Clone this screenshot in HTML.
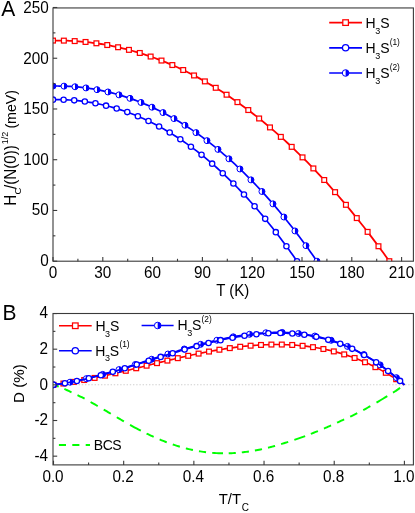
<!DOCTYPE html>
<html><head><meta charset="utf-8"><title>Hc and deviation function</title>
<style>
html,body{margin:0;padding:0;background:#fff;}
svg{display:block;will-change:transform;}
text{font-family:"Liberation Sans",sans-serif;fill:#000;}
</style></head><body>
<svg width="415" height="513" viewBox="0 0 415 513">
<rect width="415" height="513" fill="#fff"/>
<defs><clipPath id="ca"><rect x="53" y="7.95" width="360.4" height="253.25"/></clipPath>
<clipPath id="cb"><rect x="53" y="313.5" width="360.4" height="151.4"/></clipPath></defs>
<g clip-path="url(#ca)">
<path d="M53 40.58 L55.83 40.55 L58.65 40.55 L61.48 40.58 L64.3 40.64 L67.13 40.72 L69.96 40.83 L72.78 40.97 L75.61 41.14 L78.44 41.34 L81.26 41.57 L84.09 41.83 L86.91 42.11 L89.74 42.43 L92.57 42.77 L95.39 43.15 L98.22 43.55 L101.05 43.99 L103.87 44.45 L106.7 44.94 L109.52 45.47 L112.35 46.02 L115.18 46.61 L118 47.22 L120.83 47.86 L123.65 48.54 L126.48 49.24 L129.31 49.98 L132.13 50.75 L134.96 51.55 L137.79 52.38 L140.61 53.24 L143.44 54.13 L146.26 55.05 L149.09 56 L151.92 56.99 L154.74 58.01 L157.57 59.05 L160.4 60.13 L163.22 61.25 L166.05 62.39 L168.87 63.57 L171.7 64.77 L174.53 66.02 L177.35 67.29 L180.18 68.59 L183 69.93 L185.83 71.3 L188.66 72.7 L191.48 74.14 L194.31 75.61 L197.14 77.11 L199.96 78.64 L202.79 80.21 L205.61 81.81 L208.44 83.44 L211.27 85.11 L214.09 86.81 L216.92 88.54 L219.74 90.31 L222.57 92.11 L225.4 93.94 L228.22 95.81 L231.05 97.72 L233.88 99.65 L236.7 101.62 L239.53 103.63 L242.35 105.67 L245.18 107.74 L248.01 109.85 L250.83 111.99 L253.66 114.17 L256.49 116.38 L259.31 118.63 L262.14 120.91 L264.96 123.22 L267.79 125.58 L270.62 127.96 L273.44 130.39 L276.27 132.84 L279.09 135.34 L281.92 137.86 L284.75 140.43 L287.57 143.03 L290.4 145.66 L293.23 148.33 L296.05 151.04 L298.88 153.78 L301.7 156.56 L304.53 159.38 L307.36 162.23 L310.18 165.12 L313.01 168.05 L315.84 171.01 L318.66 174.01 L321.49 177.04 L324.31 180.11 L327.14 183.22 L329.97 186.37 L332.79 189.55 L335.62 192.77 L338.44 196.03 L341.27 199.33 L344.1 202.66 L346.92 206.03 L349.75 209.44 L352.58 212.89 L355.4 216.38 L358.23 219.9 L361.05 223.46 L363.88 227.06 L366.71 230.7 L369.53 234.37 L372.36 238.09 L375.19 241.84 L378.01 245.64 L380.84 249.47 L383.66 253.34 L386.49 257.25 L389.32 261.2" fill="none" stroke="#ff0000" stroke-width="1.8" stroke-linejoin="round" />
<rect x="50.6" y="38.18" width="4.8" height="4.8" fill="#fff" stroke="#ff0000" stroke-width="1.25"/>
<rect x="61.45" y="38.23" width="4.8" height="4.8" fill="#fff" stroke="#ff0000" stroke-width="1.25"/>
<rect x="72.3" y="38.69" width="4.8" height="4.8" fill="#fff" stroke="#ff0000" stroke-width="1.25"/>
<rect x="83.15" y="39.57" width="4.8" height="4.8" fill="#fff" stroke="#ff0000" stroke-width="1.25"/>
<rect x="94" y="40.89" width="4.8" height="4.8" fill="#fff" stroke="#ff0000" stroke-width="1.25"/>
<rect x="104.84" y="42.64" width="4.8" height="4.8" fill="#fff" stroke="#ff0000" stroke-width="1.25"/>
<rect x="115.69" y="44.84" width="4.8" height="4.8" fill="#fff" stroke="#ff0000" stroke-width="1.25"/>
<rect x="126.54" y="47.48" width="4.8" height="4.8" fill="#fff" stroke="#ff0000" stroke-width="1.25"/>
<rect x="137.39" y="50.58" width="4.8" height="4.8" fill="#fff" stroke="#ff0000" stroke-width="1.25"/>
<rect x="148.24" y="54.14" width="4.8" height="4.8" fill="#fff" stroke="#ff0000" stroke-width="1.25"/>
<rect x="159.09" y="58.16" width="4.8" height="4.8" fill="#fff" stroke="#ff0000" stroke-width="1.25"/>
<rect x="169.94" y="62.65" width="4.8" height="4.8" fill="#fff" stroke="#ff0000" stroke-width="1.25"/>
<rect x="180.79" y="67.62" width="4.8" height="4.8" fill="#fff" stroke="#ff0000" stroke-width="1.25"/>
<rect x="191.64" y="73.06" width="4.8" height="4.8" fill="#fff" stroke="#ff0000" stroke-width="1.25"/>
<rect x="202.48" y="78.99" width="4.8" height="4.8" fill="#fff" stroke="#ff0000" stroke-width="1.25"/>
<rect x="213.33" y="85.41" width="4.8" height="4.8" fill="#fff" stroke="#ff0000" stroke-width="1.25"/>
<rect x="224.18" y="92.32" width="4.8" height="4.8" fill="#fff" stroke="#ff0000" stroke-width="1.25"/>
<rect x="235.03" y="99.74" width="4.8" height="4.8" fill="#fff" stroke="#ff0000" stroke-width="1.25"/>
<rect x="245.88" y="107.65" width="4.8" height="4.8" fill="#fff" stroke="#ff0000" stroke-width="1.25"/>
<rect x="256.73" y="116.08" width="4.8" height="4.8" fill="#fff" stroke="#ff0000" stroke-width="1.25"/>
<rect x="267.58" y="125.02" width="4.8" height="4.8" fill="#fff" stroke="#ff0000" stroke-width="1.25"/>
<rect x="278.43" y="134.48" width="4.8" height="4.8" fill="#fff" stroke="#ff0000" stroke-width="1.25"/>
<rect x="289.28" y="144.46" width="4.8" height="4.8" fill="#fff" stroke="#ff0000" stroke-width="1.25"/>
<rect x="300.12" y="154.98" width="4.8" height="4.8" fill="#fff" stroke="#ff0000" stroke-width="1.25"/>
<rect x="310.97" y="166.03" width="4.8" height="4.8" fill="#fff" stroke="#ff0000" stroke-width="1.25"/>
<rect x="321.82" y="177.61" width="4.8" height="4.8" fill="#fff" stroke="#ff0000" stroke-width="1.25"/>
<rect x="332.67" y="189.75" width="4.8" height="4.8" fill="#fff" stroke="#ff0000" stroke-width="1.25"/>
<rect x="343.52" y="202.43" width="4.8" height="4.8" fill="#fff" stroke="#ff0000" stroke-width="1.25"/>
<rect x="354.37" y="215.68" width="4.8" height="4.8" fill="#fff" stroke="#ff0000" stroke-width="1.25"/>
<rect x="365.22" y="229.48" width="4.8" height="4.8" fill="#fff" stroke="#ff0000" stroke-width="1.25"/>
<rect x="376.07" y="243.85" width="4.8" height="4.8" fill="#fff" stroke="#ff0000" stroke-width="1.25"/>
<rect x="386.92" y="258.8" width="4.8" height="4.8" fill="#fff" stroke="#ff0000" stroke-width="1.25"/>
<path d="M53 99.64 L55.05 99.62 L57.1 99.62 L59.15 99.63 L61.2 99.67 L63.25 99.73 L65.3 99.8 L67.35 99.9 L69.4 100.02 L71.46 100.15 L73.51 100.31 L75.56 100.49 L77.61 100.69 L79.66 100.91 L81.71 101.15 L83.76 101.41 L85.81 101.69 L87.86 102 L89.91 102.32 L91.96 102.67 L94.01 103.04 L96.06 103.43 L98.11 103.84 L100.16 104.27 L102.21 104.73 L104.26 105.2 L106.32 105.7 L108.37 106.22 L110.42 106.77 L112.47 107.33 L114.52 107.92 L116.57 108.53 L118.62 109.17 L120.67 109.82 L122.72 110.5 L124.77 111.2 L126.82 111.93 L128.87 112.68 L130.92 113.45 L132.97 114.24 L135.02 115.06 L137.07 115.9 L139.12 116.77 L141.18 117.66 L143.23 118.57 L145.28 119.51 L147.33 120.47 L149.38 121.45 L151.43 122.46 L153.48 123.49 L155.53 124.55 L157.58 125.63 L159.63 126.74 L161.68 127.87 L163.73 129.02 L165.78 130.2 L167.83 131.41 L169.88 132.64 L171.93 133.89 L173.98 135.17 L176.04 136.48 L178.09 137.81 L180.14 139.16 L182.19 140.54 L184.24 141.95 L186.29 143.38 L188.34 144.84 L190.39 146.32 L192.44 147.83 L194.49 149.37 L196.54 150.93 L198.59 152.51 L200.64 154.13 L202.69 155.77 L204.74 157.43 L206.79 159.13 L208.84 160.85 L210.9 162.59 L212.95 164.37 L215 166.17 L217.05 167.99 L219.1 169.85 L221.15 171.73 L223.2 173.63 L225.25 175.57 L227.3 177.53 L229.35 179.52 L231.4 181.54 L233.45 183.58 L235.5 185.66 L237.55 187.76 L239.6 189.88 L241.65 192.04 L243.7 194.23 L245.76 196.44 L247.81 198.68 L249.86 200.95 L251.91 203.25 L253.96 205.57 L256.01 207.93 L258.06 210.31 L260.11 212.72 L262.16 215.17 L264.21 217.64 L266.26 220.14 L268.31 222.67 L270.36 225.22 L272.41 227.81 L274.46 230.43 L276.51 233.08 L278.56 235.75 L280.62 238.46 L282.67 241.2 L284.72 243.96 L286.77 246.76 L288.82 249.59 L290.87 252.44 L292.92 255.33 L294.97 258.25 L297.02 261.2" fill="none" stroke="#0000ff" stroke-width="1.7" stroke-linejoin="round" />
<circle cx="53" cy="99.64" r="2.65" fill="#fff" stroke="#0000ff" stroke-width="1.3"/>
<circle cx="63.61" cy="99.74" r="2.65" fill="#fff" stroke="#0000ff" stroke-width="1.3"/>
<circle cx="74.22" cy="100.37" r="2.65" fill="#fff" stroke="#0000ff" stroke-width="1.3"/>
<circle cx="84.83" cy="101.56" r="2.65" fill="#fff" stroke="#0000ff" stroke-width="1.3"/>
<circle cx="95.44" cy="103.31" r="2.65" fill="#fff" stroke="#0000ff" stroke-width="1.3"/>
<circle cx="106.05" cy="105.64" r="2.65" fill="#fff" stroke="#0000ff" stroke-width="1.3"/>
<circle cx="116.66" cy="108.56" r="2.65" fill="#fff" stroke="#0000ff" stroke-width="1.3"/>
<circle cx="127.27" cy="112.09" r="2.65" fill="#fff" stroke="#0000ff" stroke-width="1.3"/>
<circle cx="137.88" cy="116.24" r="2.65" fill="#fff" stroke="#0000ff" stroke-width="1.3"/>
<circle cx="148.49" cy="121.02" r="2.65" fill="#fff" stroke="#0000ff" stroke-width="1.3"/>
<circle cx="159.1" cy="126.45" r="2.65" fill="#fff" stroke="#0000ff" stroke-width="1.3"/>
<circle cx="169.71" cy="132.53" r="2.65" fill="#fff" stroke="#0000ff" stroke-width="1.3"/>
<circle cx="180.31" cy="139.28" r="2.65" fill="#fff" stroke="#0000ff" stroke-width="1.3"/>
<circle cx="190.92" cy="146.71" r="2.65" fill="#fff" stroke="#0000ff" stroke-width="1.3"/>
<circle cx="201.53" cy="154.84" r="2.65" fill="#fff" stroke="#0000ff" stroke-width="1.3"/>
<circle cx="212.14" cy="163.67" r="2.65" fill="#fff" stroke="#0000ff" stroke-width="1.3"/>
<circle cx="222.75" cy="173.22" r="2.65" fill="#fff" stroke="#0000ff" stroke-width="1.3"/>
<circle cx="233.36" cy="183.49" r="2.65" fill="#fff" stroke="#0000ff" stroke-width="1.3"/>
<circle cx="243.97" cy="194.51" r="2.65" fill="#fff" stroke="#0000ff" stroke-width="1.3"/>
<circle cx="254.58" cy="206.29" r="2.65" fill="#fff" stroke="#0000ff" stroke-width="1.3"/>
<circle cx="265.19" cy="218.83" r="2.65" fill="#fff" stroke="#0000ff" stroke-width="1.3"/>
<circle cx="275.8" cy="232.15" r="2.65" fill="#fff" stroke="#0000ff" stroke-width="1.3"/>
<circle cx="286.41" cy="246.27" r="2.65" fill="#fff" stroke="#0000ff" stroke-width="1.3"/>
<circle cx="297.02" cy="261.2" r="2.65" fill="#fff" stroke="#0000ff" stroke-width="1.3"/>
<path d="M53 86.05 L55.22 86.02 L57.44 86.02 L59.65 86.04 L61.87 86.08 L64.09 86.14 L66.31 86.22 L68.53 86.32 L70.74 86.45 L72.96 86.6 L75.18 86.77 L77.4 86.96 L79.62 87.18 L81.83 87.42 L84.05 87.68 L86.27 87.96 L88.49 88.27 L90.71 88.6 L92.92 88.95 L95.14 89.33 L97.36 89.72 L99.58 90.15 L101.8 90.59 L104.01 91.06 L106.23 91.56 L108.45 92.07 L110.67 92.61 L112.89 93.18 L115.1 93.77 L117.32 94.38 L119.54 95.02 L121.76 95.68 L123.98 96.37 L126.19 97.08 L128.41 97.82 L130.63 98.58 L132.85 99.36 L135.07 100.17 L137.28 101.01 L139.5 101.87 L141.72 102.76 L143.94 103.67 L146.16 104.61 L148.37 105.57 L150.59 106.56 L152.81 107.58 L155.03 108.62 L157.25 109.69 L159.46 110.78 L161.68 111.9 L163.9 113.05 L166.12 114.22 L168.34 115.42 L170.55 116.64 L172.77 117.9 L174.99 119.18 L177.21 120.48 L179.43 121.82 L181.64 123.18 L183.86 124.56 L186.08 125.98 L188.3 127.42 L190.51 128.89 L192.73 130.39 L194.95 131.91 L197.17 133.46 L199.39 135.04 L201.6 136.65 L203.82 138.29 L206.04 139.95 L208.26 141.65 L210.48 143.37 L212.69 145.12 L214.91 146.89 L217.13 148.7 L219.35 150.54 L221.57 152.4 L223.78 154.29 L226 156.22 L228.22 158.17 L230.44 160.15 L232.66 162.16 L234.87 164.19 L237.09 166.26 L239.31 168.36 L241.53 170.49 L243.75 172.65 L245.96 174.83 L248.18 177.05 L250.4 179.3 L252.62 181.57 L254.84 183.88 L257.05 186.22 L259.27 188.59 L261.49 190.99 L263.71 193.42 L265.93 195.88 L268.14 198.37 L270.36 200.89 L272.58 203.44 L274.8 206.03 L277.02 208.64 L279.23 211.29 L281.45 213.97 L283.67 216.68 L285.89 219.42 L288.11 222.2 L290.32 225 L292.54 227.84 L294.76 230.71 L296.98 233.61 L299.2 236.55 L301.41 239.51 L303.63 242.51 L305.85 245.54 L308.07 248.61 L310.29 251.71 L312.5 254.84 L314.72 258 L316.94 261.2" fill="none" stroke="#0000ff" stroke-width="1.7" stroke-linejoin="round" />
<circle cx="53" cy="86.05" r="3" fill="#fff" stroke="#0000ff" stroke-width="1.0"/>
<path d="M53 83.05 A3 3 0 0 1 53 89.05 Z" fill="#0000ff"/>
<circle cx="64" cy="86.13" r="3" fill="#fff" stroke="#0000ff" stroke-width="1.0"/>
<path d="M64 83.13 A3 3 0 0 1 64 89.13 Z" fill="#0000ff"/>
<circle cx="75" cy="86.75" r="3" fill="#fff" stroke="#0000ff" stroke-width="1.0"/>
<path d="M75 83.75 A3 3 0 0 1 75 89.75 Z" fill="#0000ff"/>
<circle cx="85.99" cy="87.92" r="3" fill="#fff" stroke="#0000ff" stroke-width="1.0"/>
<path d="M85.99 84.92 A3 3 0 0 1 85.99 90.92 Z" fill="#0000ff"/>
<circle cx="96.99" cy="89.66" r="3" fill="#fff" stroke="#0000ff" stroke-width="1.0"/>
<path d="M96.99 86.66 A3 3 0 0 1 96.99 92.66 Z" fill="#0000ff"/>
<circle cx="107.99" cy="91.96" r="3" fill="#fff" stroke="#0000ff" stroke-width="1.0"/>
<path d="M107.99 88.96 A3 3 0 0 1 107.99 94.96 Z" fill="#0000ff"/>
<circle cx="118.98" cy="94.86" r="3" fill="#fff" stroke="#0000ff" stroke-width="1.0"/>
<path d="M118.98 91.86 A3 3 0 0 1 118.98 97.86 Z" fill="#0000ff"/>
<circle cx="129.98" cy="98.35" r="3" fill="#fff" stroke="#0000ff" stroke-width="1.0"/>
<path d="M129.98 95.35 A3 3 0 0 1 129.98 101.35 Z" fill="#0000ff"/>
<circle cx="140.98" cy="102.46" r="3" fill="#fff" stroke="#0000ff" stroke-width="1.0"/>
<path d="M140.98 99.46 A3 3 0 0 1 140.98 105.46 Z" fill="#0000ff"/>
<circle cx="151.98" cy="107.2" r="3" fill="#fff" stroke="#0000ff" stroke-width="1.0"/>
<path d="M151.98 104.2 A3 3 0 0 1 151.98 110.2 Z" fill="#0000ff"/>
<circle cx="162.97" cy="112.57" r="3" fill="#fff" stroke="#0000ff" stroke-width="1.0"/>
<path d="M162.97 109.57 A3 3 0 0 1 162.97 115.57 Z" fill="#0000ff"/>
<circle cx="173.97" cy="118.59" r="3" fill="#fff" stroke="#0000ff" stroke-width="1.0"/>
<path d="M173.97 115.59 A3 3 0 0 1 173.97 121.59 Z" fill="#0000ff"/>
<circle cx="184.97" cy="125.27" r="3" fill="#fff" stroke="#0000ff" stroke-width="1.0"/>
<path d="M184.97 122.27 A3 3 0 0 1 184.97 128.27 Z" fill="#0000ff"/>
<circle cx="195.97" cy="132.62" r="3" fill="#fff" stroke="#0000ff" stroke-width="1.0"/>
<path d="M195.97 129.62 A3 3 0 0 1 195.97 135.62 Z" fill="#0000ff"/>
<circle cx="206.97" cy="140.65" r="3" fill="#fff" stroke="#0000ff" stroke-width="1.0"/>
<path d="M206.97 137.65 A3 3 0 0 1 206.97 143.65 Z" fill="#0000ff"/>
<circle cx="217.96" cy="149.39" r="3" fill="#fff" stroke="#0000ff" stroke-width="1.0"/>
<path d="M217.96 146.39 A3 3 0 0 1 217.96 152.39 Z" fill="#0000ff"/>
<circle cx="228.96" cy="158.82" r="3" fill="#fff" stroke="#0000ff" stroke-width="1.0"/>
<path d="M228.96 155.82 A3 3 0 0 1 228.96 161.82 Z" fill="#0000ff"/>
<circle cx="239.96" cy="168.98" r="3" fill="#fff" stroke="#0000ff" stroke-width="1.0"/>
<path d="M239.96 165.98 A3 3 0 0 1 239.96 171.98 Z" fill="#0000ff"/>
<circle cx="250.95" cy="179.86" r="3" fill="#fff" stroke="#0000ff" stroke-width="1.0"/>
<path d="M250.95 176.86 A3 3 0 0 1 250.95 182.86 Z" fill="#0000ff"/>
<circle cx="261.95" cy="191.49" r="3" fill="#fff" stroke="#0000ff" stroke-width="1.0"/>
<path d="M261.95 188.49 A3 3 0 0 1 261.95 194.49 Z" fill="#0000ff"/>
<circle cx="272.95" cy="203.87" r="3" fill="#fff" stroke="#0000ff" stroke-width="1.0"/>
<path d="M272.95 200.87 A3 3 0 0 1 272.95 206.87 Z" fill="#0000ff"/>
<circle cx="283.95" cy="217.02" r="3" fill="#fff" stroke="#0000ff" stroke-width="1.0"/>
<path d="M283.95 214.02 A3 3 0 0 1 283.95 220.02 Z" fill="#0000ff"/>
<circle cx="294.94" cy="230.95" r="3" fill="#fff" stroke="#0000ff" stroke-width="1.0"/>
<path d="M294.94 227.95 A3 3 0 0 1 294.94 233.95 Z" fill="#0000ff"/>
<circle cx="305.94" cy="245.67" r="3" fill="#fff" stroke="#0000ff" stroke-width="1.0"/>
<path d="M305.94 242.67 A3 3 0 0 1 305.94 248.67 Z" fill="#0000ff"/>
<circle cx="316.94" cy="261.2" r="3" fill="#fff" stroke="#0000ff" stroke-width="1.0"/>
<path d="M316.94 258.2 A3 3 0 0 1 316.94 264.2 Z" fill="#0000ff"/>
</g>
<rect x="53" y="7.95" width="360.4" height="253.25" fill="none" stroke="#3a3a3a" stroke-width="1.1"/>
<line x1="53" y1="261.2" x2="53" y2="257" stroke="#3a3a3a" stroke-width="1.1" />
<text transform="translate(53 277.6) scale(1 1.04)" font-size="15.3" text-anchor="middle">0</text>
<line x1="77.9" y1="261.2" x2="77.9" y2="258.8" stroke="#3a3a3a" stroke-width="1.1" />
<line x1="102.8" y1="261.2" x2="102.8" y2="257" stroke="#3a3a3a" stroke-width="1.1" />
<text transform="translate(102.8 277.6) scale(1 1.04)" font-size="15.3" text-anchor="middle">30</text>
<line x1="127.7" y1="261.2" x2="127.7" y2="258.8" stroke="#3a3a3a" stroke-width="1.1" />
<line x1="152.6" y1="261.2" x2="152.6" y2="257" stroke="#3a3a3a" stroke-width="1.1" />
<text transform="translate(152.6 277.6) scale(1 1.04)" font-size="15.3" text-anchor="middle">60</text>
<line x1="177.5" y1="261.2" x2="177.5" y2="258.8" stroke="#3a3a3a" stroke-width="1.1" />
<line x1="202.4" y1="261.2" x2="202.4" y2="257" stroke="#3a3a3a" stroke-width="1.1" />
<text transform="translate(202.4 277.6) scale(1 1.04)" font-size="15.3" text-anchor="middle">90</text>
<line x1="227.3" y1="261.2" x2="227.3" y2="258.8" stroke="#3a3a3a" stroke-width="1.1" />
<line x1="252.2" y1="261.2" x2="252.2" y2="257" stroke="#3a3a3a" stroke-width="1.1" />
<text transform="translate(252.2 277.6) scale(1 1.04)" font-size="15.3" text-anchor="middle">120</text>
<line x1="277.1" y1="261.2" x2="277.1" y2="258.8" stroke="#3a3a3a" stroke-width="1.1" />
<line x1="302" y1="261.2" x2="302" y2="257" stroke="#3a3a3a" stroke-width="1.1" />
<text transform="translate(302 277.6) scale(1 1.04)" font-size="15.3" text-anchor="middle">150</text>
<line x1="326.9" y1="261.2" x2="326.9" y2="258.8" stroke="#3a3a3a" stroke-width="1.1" />
<line x1="351.8" y1="261.2" x2="351.8" y2="257" stroke="#3a3a3a" stroke-width="1.1" />
<text transform="translate(351.8 277.6) scale(1 1.04)" font-size="15.3" text-anchor="middle">180</text>
<line x1="376.7" y1="261.2" x2="376.7" y2="258.8" stroke="#3a3a3a" stroke-width="1.1" />
<line x1="401.6" y1="261.2" x2="401.6" y2="257" stroke="#3a3a3a" stroke-width="1.1" />
<text transform="translate(401.6 277.6) scale(1 1.04)" font-size="15.3" text-anchor="middle">210</text>
<line x1="53" y1="261.2" x2="57.2" y2="261.2" stroke="#3a3a3a" stroke-width="1.1" />
<text transform="translate(48.7 265.9) scale(1 1.04)" font-size="15.3" text-anchor="end">0</text>
<line x1="53" y1="235.83" x2="55.4" y2="235.83" stroke="#3a3a3a" stroke-width="1.1" />
<line x1="53" y1="210.46" x2="57.2" y2="210.46" stroke="#3a3a3a" stroke-width="1.1" />
<text transform="translate(48.7 215.34) scale(1 1.04)" font-size="15.3" text-anchor="end">50</text>
<line x1="53" y1="185.09" x2="55.4" y2="185.09" stroke="#3a3a3a" stroke-width="1.1" />
<line x1="53" y1="159.72" x2="57.2" y2="159.72" stroke="#3a3a3a" stroke-width="1.1" />
<text transform="translate(48.7 164.78) scale(1 1.04)" font-size="15.3" text-anchor="end">100</text>
<line x1="53" y1="134.35" x2="55.4" y2="134.35" stroke="#3a3a3a" stroke-width="1.1" />
<line x1="53" y1="108.98" x2="57.2" y2="108.98" stroke="#3a3a3a" stroke-width="1.1" />
<text transform="translate(48.7 114.22) scale(1 1.04)" font-size="15.3" text-anchor="end">150</text>
<line x1="53" y1="83.61" x2="55.4" y2="83.61" stroke="#3a3a3a" stroke-width="1.1" />
<line x1="53" y1="58.24" x2="57.2" y2="58.24" stroke="#3a3a3a" stroke-width="1.1" />
<text transform="translate(48.7 63.66) scale(1 1.04)" font-size="15.3" text-anchor="end">200</text>
<line x1="53" y1="32.87" x2="55.4" y2="32.87" stroke="#3a3a3a" stroke-width="1.1" />
<line x1="53" y1="7.5" x2="57.2" y2="7.5" stroke="#3a3a3a" stroke-width="1.1" />
<text transform="translate(48.7 13.1) scale(1 1.04)" font-size="15.3" text-anchor="end">250</text>
<text transform="translate(216.3 295.8) scale(1 1.05)" font-size="15">T (K)</text>
<text transform="translate(1.2 15.5) scale(1 1.08)" font-size="21">A</text>
<g transform="translate(15.8 205.7) rotate(-90) scale(1 1.05)"><text x="0" y="0" font-size="15.2">H<tspan font-size="9.5" dy="5.3" dx="0.2">C</tspan><tspan dy="-5.3" dx="-1.4">/(N(0))</tspan><tspan font-size="9" dy="-7.6" dx="0.9">1/2</tspan><tspan x="77.1" dy="7.6" font-size="14.2">(meV)</tspan></text></g>
<line x1="329.2" y1="22.6" x2="362" y2="22.6" stroke="#ff0000" stroke-width="1.7" />
<rect x="342.8" y="19.8" width="5.6" height="5.6" fill="#fff" stroke="#ff0000" stroke-width="1.25"/>
<text x="365.6" y="27.7" font-size="14" text-anchor="start" >H<tspan font-size="9" dy="5.8" dx="-0.5">3</tspan><tspan dy="-5.8" dx="-0.1">S</tspan></text>
<line x1="329.2" y1="47.8" x2="362" y2="47.8" stroke="#0000ff" stroke-width="1.7" />
<circle cx="345.6" cy="47.8" r="3.15" fill="#fff" stroke="#0000ff" stroke-width="1.3"/>
<text x="365.6" y="52.9" font-size="14" text-anchor="start" >H<tspan font-size="9" dy="5.8" dx="-0.5">3</tspan><tspan dy="-5.8" dx="-0.1">S</tspan><tspan font-size="8.4" dy="-7.9" dx="0.2">(1)</tspan></text>
<line x1="329.2" y1="73" x2="362" y2="73" stroke="#0000ff" stroke-width="1.7" />
<circle cx="345.6" cy="73" r="3.3" fill="#fff" stroke="#0000ff" stroke-width="1.0"/>
<path d="M345.6 69.7 A3.3 3.3 0 0 1 345.6 76.3 Z" fill="#0000ff"/>
<text x="365.6" y="78.1" font-size="14" text-anchor="start" >H<tspan font-size="9" dy="5.8" dx="-0.5">3</tspan><tspan dy="-5.8" dx="-0.1">S</tspan><tspan font-size="8.4" dy="-7.9" dx="0.2">(2)</tspan></text>
<line x1="53" y1="384.75" x2="413.4" y2="384.75" stroke="#cfcfcf" stroke-width="1" stroke-dasharray="1.4 1.8"/>
<g clip-path="url(#cb)">
<path d="M53.5 384.85 L54.54 385.18 L55.58 385.52 L56.62 385.88 L57.66 386.25 L58.7 386.63" fill="none" stroke="#00ff00" stroke-width="1.95" stroke-linejoin="round" />
<path d="M64.4 388.95 L65.82 389.59 L67.24 390.24 L68.66 390.91 L70.08 391.61 L71.5 392.29" fill="none" stroke="#00ff00" stroke-width="1.95" stroke-linejoin="round" />
<path d="M77.5 395.09 L78.92 395.8 L80.34 396.51 L81.76 397.24 L83.18 397.98 L84.6 398.73" fill="none" stroke="#00ff00" stroke-width="1.95" stroke-linejoin="round" />
<path d="M90.6 402 L92.02 402.79 L93.44 403.59 L94.86 404.4 L96.28 405.22 L97.7 406.03" fill="none" stroke="#00ff00" stroke-width="1.95" stroke-linejoin="round" />
<path d="M103.7 409.54 L105.12 410.37 L106.54 411.21 L107.96 412.05 L109.38 412.89 L110.8 413.73" fill="none" stroke="#00ff00" stroke-width="1.95" stroke-linejoin="round" />
<path d="M116.8 417.26 L118.22 418.1 L119.64 418.93 L121.06 419.75 L122.48 420.58 L123.9 421.4" fill="none" stroke="#00ff00" stroke-width="1.95" stroke-linejoin="round" />
<path d="M130.05 424.89 L132.21 426.09 L134.37 427.28 L136.53 428.43 L138.69 429.56 L140.85 430.67" fill="none" stroke="#00ff00" stroke-width="1.95" stroke-linejoin="round" />
<path d="M146.55 433.52 L147.97 434.2 L149.39 434.88 L150.81 435.55 L152.23 436.2 L153.65 436.85" fill="none" stroke="#00ff00" stroke-width="1.95" stroke-linejoin="round" />
<path d="M159.65 439.47 L161.07 440.06 L162.49 440.63 L163.91 441.2 L165.33 441.76 L166.75 442.3" fill="none" stroke="#00ff00" stroke-width="1.95" stroke-linejoin="round" />
<path d="M172.75 444.46 L174.17 444.94 L175.59 445.4 L177.01 445.86 L178.43 446.3 L179.85 446.73" fill="none" stroke="#00ff00" stroke-width="1.95" stroke-linejoin="round" />
<path d="M185.85 448.39 L187.27 448.75 L188.69 449.09 L190.11 449.42 L191.53 449.74 L192.95 450.04" fill="none" stroke="#00ff00" stroke-width="1.95" stroke-linejoin="round" />
<path d="M198.95 451.18 L200.37 451.41 L201.79 451.63 L203.21 451.84 L204.63 452.04 L206.05 452.22" fill="none" stroke="#00ff00" stroke-width="1.95" stroke-linejoin="round" />
<path d="M212.2 452.85 L214.36 453.01 L216.52 453.14 L218.68 453.24 L220.84 453.31 L223 453.34" fill="none" stroke="#00ff00" stroke-width="1.95" stroke-linejoin="round" />
<path d="M228.7 453.29 L230.12 453.25 L231.54 453.19 L232.96 453.12 L234.38 453.03 L235.8 452.94" fill="none" stroke="#00ff00" stroke-width="1.95" stroke-linejoin="round" />
<path d="M241.8 452.39 L243.22 452.23 L244.64 452.06 L246.06 451.87 L247.48 451.68 L248.9 451.48" fill="none" stroke="#00ff00" stroke-width="1.95" stroke-linejoin="round" />
<path d="M254.9 450.52 L256.32 450.26 L257.74 450 L259.16 449.72 L260.58 449.43 L262 449.13" fill="none" stroke="#00ff00" stroke-width="1.95" stroke-linejoin="round" />
<path d="M268 447.74 L269.42 447.38 L270.84 447.02 L272.26 446.65 L273.68 446.26 L275.1 445.87" fill="none" stroke="#00ff00" stroke-width="1.95" stroke-linejoin="round" />
<path d="M281.1 444.11 L282.52 443.67 L283.94 443.22 L285.36 442.77 L286.78 442.34 L288.2 441.9" fill="none" stroke="#00ff00" stroke-width="1.95" stroke-linejoin="round" />
<path d="M294.35 439.91 L296.51 439.17 L298.67 438.42 L300.83 437.66 L302.99 436.87 L305.15 436.08" fill="none" stroke="#00ff00" stroke-width="1.95" stroke-linejoin="round" />
<path d="M310.85 433.9 L312.27 433.34 L313.69 432.78 L315.11 432.21 L316.53 431.63 L317.95 431.05" fill="none" stroke="#00ff00" stroke-width="1.95" stroke-linejoin="round" />
<path d="M323.95 428.53 L325.37 427.91 L326.79 427.29 L328.21 426.67 L329.63 426.04 L331.05 425.41" fill="none" stroke="#00ff00" stroke-width="1.95" stroke-linejoin="round" />
<path d="M337.05 422.69 L338.47 422.04 L339.89 421.38 L341.31 420.72 L342.73 420.08 L344.15 419.44" fill="none" stroke="#00ff00" stroke-width="1.95" stroke-linejoin="round" />
<path d="M350.15 416.68 L351.57 416.02 L352.99 415.35 L354.41 414.65 L355.83 413.92 L357.25 413.19" fill="none" stroke="#00ff00" stroke-width="1.95" stroke-linejoin="round" />
<path d="M363.25 410.06 L364.67 409.31 L366.09 408.55 L367.51 407.75 L368.93 406.94 L370.35 406.12" fill="none" stroke="#00ff00" stroke-width="1.95" stroke-linejoin="round" />
<path d="M376.5 402.57 L378.66 401.3 L380.82 400.03 L382.98 398.74 L385.14 397.44 L387.3 396.13" fill="none" stroke="#00ff00" stroke-width="1.95" stroke-linejoin="round" />
<path d="M393 392.64 L394.42 391.75 L395.84 390.85 L397.26 389.87 L398.68 388.88 L400.1 387.89" fill="none" stroke="#00ff00" stroke-width="1.95" stroke-linejoin="round" />
<path d="M53.5 384.85 L55.26 384.64 L57.03 384.42 L58.79 384.19 L60.55 383.95 L62.32 383.7 L64.08 383.45 L65.84 383.18 L67.61 382.91 L69.37 382.64 L71.13 382.35 L72.9 382.06 L74.66 381.76 L76.42 381.45 L78.19 381.14 L79.95 380.82 L81.71 380.49 L83.48 380.16 L85.24 379.82 L87 379.47 L88.77 379.12 L90.53 378.77 L92.29 378.41 L94.06 378.04 L95.82 377.67 L97.58 377.3 L99.35 376.92 L101.11 376.53 L102.87 376.15 L104.64 375.75 L106.4 375.36 L108.16 374.96 L109.93 374.56 L111.69 374.15 L113.45 373.74 L115.22 373.33 L116.98 372.91 L118.74 372.5 L120.51 372.08 L122.27 371.65 L124.03 371.23 L125.8 370.8 L127.56 370.38 L129.32 369.95 L131.09 369.52 L132.85 369.08 L134.61 368.65 L136.38 368.22 L138.14 367.78 L139.9 367.35 L141.67 366.91 L143.43 366.48 L145.19 366.04 L146.96 365.6 L148.72 365.17 L150.48 364.73 L152.25 364.3 L154.01 363.87 L155.77 363.43 L157.54 363 L159.3 362.57 L161.06 362.14 L162.83 361.71 L164.59 361.29 L166.35 360.86 L168.12 360.44 L169.88 360.02 L171.64 359.6 L173.41 359.18 L175.17 358.77 L176.93 358.36 L178.7 357.95 L180.46 357.55 L182.22 357.15 L183.99 356.75 L185.75 356.36 L187.51 355.97 L189.28 355.58 L191.04 355.2 L192.8 354.82 L194.57 354.44 L196.33 354.08 L198.09 353.71 L199.86 353.35 L201.62 352.99 L203.38 352.64 L205.15 352.3 L206.91 351.96 L208.67 351.63 L210.44 351.3 L212.2 350.97 L213.96 350.66 L215.73 350.35 L217.49 350.04 L219.25 349.75 L221.02 349.45 L222.78 349.17 L224.54 348.89 L226.31 348.62 L228.07 348.36 L229.83 348.1 L231.59 347.85 L233.36 347.61 L235.12 347.38 L236.88 347.15 L238.65 346.94 L240.41 346.73 L242.17 346.53 L243.94 346.33 L245.7 346.15 L247.46 345.98 L249.23 345.81 L250.99 345.65 L252.75 345.51 L254.52 345.37 L256.28 345.24 L258.04 345.12 L259.81 345.01 L261.57 344.92 L263.33 344.83 L265.1 344.75 L266.86 344.68 L268.62 344.62 L270.39 344.58 L272.15 344.54 L273.91 344.52 L275.68 344.51 L277.44 344.51 L279.2 344.52 L280.97 344.54 L282.73 344.57 L284.49 344.62 L286.26 344.68 L288.02 344.75 L289.78 344.83 L291.55 344.93 L293.31 345.03 L295.07 345.16 L296.84 345.29 L298.6 345.44 L300.36 345.6 L302.13 345.77 L303.89 345.96 L305.65 346.16 L307.42 346.38 L309.18 346.61 L310.94 346.86 L312.71 347.12 L314.47 347.39 L316.23 347.68 L318 347.99 L319.76 348.31 L321.52 348.64 L323.29 348.99 L325.05 349.36 L326.81 349.74 L328.58 350.14 L330.34 350.55 L332.1 350.98 L333.87 351.43 L335.63 351.89 L337.39 352.37 L339.16 352.87 L340.92 353.39 L342.68 353.92 L344.45 354.47 L346.21 355.04 L347.97 355.62 L349.74 356.22 L351.5 356.85 L353.26 357.49 L355.03 358.14 L356.79 358.82 L358.55 359.52 L360.32 360.23 L362.08 360.97 L363.84 361.72 L365.61 362.5 L367.37 363.29 L369.13 364.1 L370.9 364.94 L372.66 365.79 L374.42 366.66 L376.19 367.56 L377.95 368.48 L379.71 369.41 L381.48 370.37 L383.24 371.35 L385 372.35 L386.77 373.38 L388.53 374.42 L390.29 375.49 L392.06 376.58 L393.82 377.69 L395.58 378.83 L397.35 379.98 L399.11 381.17 L400.87 382.37 L402.64 383.6 L404.4 384.85" fill="none" stroke="#ff0000" stroke-width="1.6" stroke-linejoin="round" />
<rect x="51.1" y="382.45" width="4.8" height="4.8" fill="#fff" stroke="#ff0000" stroke-width="1.25"/>
<rect x="61" y="381.15" width="4.8" height="4.8" fill="#fff" stroke="#ff0000" stroke-width="1.25"/>
<rect x="71.4" y="379.5" width="4.8" height="4.8" fill="#fff" stroke="#ff0000" stroke-width="1.25"/>
<rect x="81.8" y="377.62" width="4.8" height="4.8" fill="#fff" stroke="#ff0000" stroke-width="1.25"/>
<rect x="92.2" y="375.53" width="4.8" height="4.8" fill="#fff" stroke="#ff0000" stroke-width="1.25"/>
<rect x="102.6" y="373.27" width="4.8" height="4.8" fill="#fff" stroke="#ff0000" stroke-width="1.25"/>
<rect x="113" y="370.89" width="4.8" height="4.8" fill="#fff" stroke="#ff0000" stroke-width="1.25"/>
<rect x="123.4" y="368.4" width="4.8" height="4.8" fill="#fff" stroke="#ff0000" stroke-width="1.25"/>
<rect x="133.8" y="365.86" width="4.8" height="4.8" fill="#fff" stroke="#ff0000" stroke-width="1.25"/>
<rect x="144.2" y="363.29" width="4.8" height="4.8" fill="#fff" stroke="#ff0000" stroke-width="1.25"/>
<rect x="154.6" y="360.73" width="4.8" height="4.8" fill="#fff" stroke="#ff0000" stroke-width="1.25"/>
<rect x="165" y="358.21" width="4.8" height="4.8" fill="#fff" stroke="#ff0000" stroke-width="1.25"/>
<rect x="175.4" y="355.76" width="4.8" height="4.8" fill="#fff" stroke="#ff0000" stroke-width="1.25"/>
<rect x="185.8" y="353.42" width="4.8" height="4.8" fill="#fff" stroke="#ff0000" stroke-width="1.25"/>
<rect x="196.2" y="351.21" width="4.8" height="4.8" fill="#fff" stroke="#ff0000" stroke-width="1.25"/>
<rect x="206.6" y="349.16" width="4.8" height="4.8" fill="#fff" stroke="#ff0000" stroke-width="1.25"/>
<rect x="217" y="347.32" width="4.8" height="4.8" fill="#fff" stroke="#ff0000" stroke-width="1.25"/>
<rect x="227.4" y="345.71" width="4.8" height="4.8" fill="#fff" stroke="#ff0000" stroke-width="1.25"/>
<rect x="237.8" y="344.35" width="4.8" height="4.8" fill="#fff" stroke="#ff0000" stroke-width="1.25"/>
<rect x="248.2" y="343.29" width="4.8" height="4.8" fill="#fff" stroke="#ff0000" stroke-width="1.25"/>
<rect x="258.6" y="342.55" width="4.8" height="4.8" fill="#fff" stroke="#ff0000" stroke-width="1.25"/>
<rect x="269" y="342.16" width="4.8" height="4.8" fill="#fff" stroke="#ff0000" stroke-width="1.25"/>
<rect x="279.4" y="342.15" width="4.8" height="4.8" fill="#fff" stroke="#ff0000" stroke-width="1.25"/>
<rect x="289.8" y="342.56" width="4.8" height="4.8" fill="#fff" stroke="#ff0000" stroke-width="1.25"/>
<rect x="300.2" y="343.42" width="4.8" height="4.8" fill="#fff" stroke="#ff0000" stroke-width="1.25"/>
<rect x="310.6" y="344.76" width="4.8" height="4.8" fill="#fff" stroke="#ff0000" stroke-width="1.25"/>
<rect x="321" y="346.61" width="4.8" height="4.8" fill="#fff" stroke="#ff0000" stroke-width="1.25"/>
<rect x="331.4" y="349.01" width="4.8" height="4.8" fill="#fff" stroke="#ff0000" stroke-width="1.25"/>
<rect x="341.8" y="351.99" width="4.8" height="4.8" fill="#fff" stroke="#ff0000" stroke-width="1.25"/>
<rect x="352.2" y="355.58" width="4.8" height="4.8" fill="#fff" stroke="#ff0000" stroke-width="1.25"/>
<rect x="362.6" y="359.83" width="4.8" height="4.8" fill="#fff" stroke="#ff0000" stroke-width="1.25"/>
<rect x="373" y="364.76" width="4.8" height="4.8" fill="#fff" stroke="#ff0000" stroke-width="1.25"/>
<rect x="383.4" y="370.41" width="4.8" height="4.8" fill="#fff" stroke="#ff0000" stroke-width="1.25"/>
<rect x="393.8" y="376.83" width="4.8" height="4.8" fill="#fff" stroke="#ff0000" stroke-width="1.25"/>
<path d="M53.5 384.85 L55.26 384.62 L57.03 384.37 L58.79 384.12 L60.55 383.85 L62.32 383.57 L64.08 383.27 L65.84 382.97 L67.61 382.65 L69.37 382.32 L71.13 381.98 L72.9 381.64 L74.66 381.28 L76.42 380.91 L78.19 380.53 L79.95 380.14 L81.71 379.74 L83.48 379.33 L85.24 378.92 L87 378.49 L88.77 378.06 L90.53 377.62 L92.29 377.17 L94.06 376.72 L95.82 376.26 L97.58 375.79 L99.35 375.31 L101.11 374.83 L102.87 374.34 L104.64 373.84 L106.4 373.34 L108.16 372.83 L109.93 372.32 L111.69 371.8 L113.45 371.28 L115.22 370.76 L116.98 370.22 L118.74 369.69 L120.51 369.15 L122.27 368.61 L124.03 368.06 L125.8 367.51 L127.56 366.96 L129.32 366.41 L131.09 365.85 L132.85 365.29 L134.61 364.73 L136.38 364.16 L138.14 363.6 L139.9 363.03 L141.67 362.47 L143.43 361.9 L145.19 361.33 L146.96 360.76 L148.72 360.19 L150.48 359.62 L152.25 359.05 L154.01 358.48 L155.77 357.91 L157.54 357.34 L159.3 356.78 L161.06 356.21 L162.83 355.65 L164.59 355.09 L166.35 354.53 L168.12 353.97 L169.88 353.41 L171.64 352.86 L173.41 352.31 L175.17 351.76 L176.93 351.22 L178.7 350.68 L180.46 350.14 L182.22 349.61 L183.99 349.08 L185.75 348.56 L187.51 348.04 L189.28 347.52 L191.04 347.01 L192.8 346.51 L194.57 346.01 L196.33 345.52 L198.09 345.03 L199.86 344.55 L201.62 344.07 L203.38 343.6 L205.15 343.14 L206.91 342.68 L208.67 342.23 L210.44 341.79 L212.2 341.36 L213.96 340.93 L215.73 340.51 L217.49 340.1 L219.25 339.7 L221.02 339.31 L222.78 338.92 L224.54 338.54 L226.31 338.18 L228.07 337.82 L229.83 337.47 L231.59 337.13 L233.36 336.8 L235.12 336.49 L236.88 336.18 L238.65 335.88 L240.41 335.59 L242.17 335.32 L243.94 335.05 L245.7 334.8 L247.46 334.56 L249.23 334.33 L250.99 334.11 L252.75 333.9 L254.52 333.71 L256.28 333.53 L258.04 333.36 L259.81 333.21 L261.57 333.06 L263.33 332.94 L265.1 332.82 L266.86 332.72 L268.62 332.63 L270.39 332.56 L272.15 332.5 L273.91 332.46 L275.68 332.43 L277.44 332.42 L279.2 332.42 L280.97 332.43 L282.73 332.47 L284.49 332.51 L286.26 332.58 L288.02 332.66 L289.78 332.76 L291.55 332.87 L293.31 333 L295.07 333.15 L296.84 333.32 L298.6 333.5 L300.36 333.7 L302.13 333.92 L303.89 334.16 L305.65 334.41 L307.42 334.69 L309.18 334.98 L310.94 335.29 L312.71 335.62 L314.47 335.97 L316.23 336.34 L318 336.73 L319.76 337.14 L321.52 337.57 L323.29 338.03 L325.05 338.5 L326.81 338.99 L328.58 339.5 L330.34 340.04 L332.1 340.6 L333.87 341.18 L335.63 341.78 L337.39 342.4 L339.16 343.05 L340.92 343.71 L342.68 344.41 L344.45 345.12 L346.21 345.86 L347.97 346.62 L349.74 347.41 L351.5 348.22 L353.26 349.05 L355.03 349.91 L356.79 350.79 L358.55 351.7 L360.32 352.63 L362.08 353.59 L363.84 354.58 L365.61 355.59 L367.37 356.62 L369.13 357.69 L370.9 358.78 L372.66 359.89 L374.42 361.04 L376.19 362.21 L377.95 363.4 L379.71 364.63 L381.48 365.88 L383.24 367.17 L385 368.48 L386.77 369.82 L388.53 371.19 L390.29 372.58 L392.06 374.01 L393.82 375.47 L395.58 376.96 L397.35 378.47 L399.11 380.02 L400.87 381.6 L402.64 383.21 L404.4 384.85" fill="none" stroke="#0000ff" stroke-width="1.7" stroke-linejoin="round" />
<circle cx="53.7" cy="384.82" r="3" fill="#fff" stroke="#0000ff" stroke-width="1.0"/>
<path d="M53.7 381.82 A3 3 0 0 1 53.7 387.82 Z" fill="#0000ff"/>
<circle cx="70.02" cy="382.2" r="3" fill="#fff" stroke="#0000ff" stroke-width="1.0"/>
<path d="M70.02 379.2 A3 3 0 0 1 70.02 385.2 Z" fill="#0000ff"/>
<circle cx="86.34" cy="378.66" r="3" fill="#fff" stroke="#0000ff" stroke-width="1.0"/>
<path d="M86.34 375.66 A3 3 0 0 1 86.34 381.66 Z" fill="#0000ff"/>
<circle cx="102.66" cy="374.4" r="3" fill="#fff" stroke="#0000ff" stroke-width="1.0"/>
<path d="M102.66 371.4 A3 3 0 0 1 102.66 377.4 Z" fill="#0000ff"/>
<circle cx="118.98" cy="369.62" r="3" fill="#fff" stroke="#0000ff" stroke-width="1.0"/>
<path d="M118.98 366.62 A3 3 0 0 1 118.98 372.62 Z" fill="#0000ff"/>
<circle cx="135.3" cy="364.51" r="3" fill="#fff" stroke="#0000ff" stroke-width="1.0"/>
<path d="M135.3 361.51 A3 3 0 0 1 135.3 367.51 Z" fill="#0000ff"/>
<circle cx="151.62" cy="359.25" r="3" fill="#fff" stroke="#0000ff" stroke-width="1.0"/>
<path d="M151.62 356.25 A3 3 0 0 1 151.62 362.25 Z" fill="#0000ff"/>
<circle cx="167.94" cy="354.02" r="3" fill="#fff" stroke="#0000ff" stroke-width="1.0"/>
<path d="M167.94 351.02 A3 3 0 0 1 167.94 357.02 Z" fill="#0000ff"/>
<circle cx="184.26" cy="349" r="3" fill="#fff" stroke="#0000ff" stroke-width="1.0"/>
<path d="M184.26 346 A3 3 0 0 1 184.26 352 Z" fill="#0000ff"/>
<circle cx="200.58" cy="344.35" r="3" fill="#fff" stroke="#0000ff" stroke-width="1.0"/>
<path d="M200.58 341.35 A3 3 0 0 1 200.58 347.35 Z" fill="#0000ff"/>
<circle cx="216.9" cy="340.24" r="3" fill="#fff" stroke="#0000ff" stroke-width="1.0"/>
<path d="M216.9 337.24 A3 3 0 0 1 216.9 343.24 Z" fill="#0000ff"/>
<circle cx="233.22" cy="336.83" r="3" fill="#fff" stroke="#0000ff" stroke-width="1.0"/>
<path d="M233.22 333.83 A3 3 0 0 1 233.22 339.83 Z" fill="#0000ff"/>
<circle cx="249.54" cy="334.29" r="3" fill="#fff" stroke="#0000ff" stroke-width="1.0"/>
<path d="M249.54 331.29 A3 3 0 0 1 249.54 337.29 Z" fill="#0000ff"/>
<circle cx="265.86" cy="332.78" r="3" fill="#fff" stroke="#0000ff" stroke-width="1.0"/>
<path d="M265.86 329.78 A3 3 0 0 1 265.86 335.78 Z" fill="#0000ff"/>
<circle cx="282.18" cy="332.45" r="3" fill="#fff" stroke="#0000ff" stroke-width="1.0"/>
<path d="M282.18 329.45 A3 3 0 0 1 282.18 335.45 Z" fill="#0000ff"/>
<circle cx="298.5" cy="333.49" r="3" fill="#fff" stroke="#0000ff" stroke-width="1.0"/>
<path d="M298.5 330.49 A3 3 0 0 1 298.5 336.49 Z" fill="#0000ff"/>
<circle cx="314.82" cy="336.04" r="3" fill="#fff" stroke="#0000ff" stroke-width="1.0"/>
<path d="M314.82 333.04 A3 3 0 0 1 314.82 339.04 Z" fill="#0000ff"/>
<circle cx="331.14" cy="340.29" r="3" fill="#fff" stroke="#0000ff" stroke-width="1.0"/>
<path d="M331.14 337.29 A3 3 0 0 1 331.14 343.29 Z" fill="#0000ff"/>
<circle cx="347.46" cy="346.4" r="3" fill="#fff" stroke="#0000ff" stroke-width="1.0"/>
<path d="M347.46 343.4 A3 3 0 0 1 347.46 349.4 Z" fill="#0000ff"/>
<circle cx="363.78" cy="354.54" r="3" fill="#fff" stroke="#0000ff" stroke-width="1.0"/>
<path d="M363.78 351.54 A3 3 0 0 1 363.78 357.54 Z" fill="#0000ff"/>
<circle cx="380.1" cy="364.9" r="3" fill="#fff" stroke="#0000ff" stroke-width="1.0"/>
<path d="M380.1 361.9 A3 3 0 0 1 380.1 367.9 Z" fill="#0000ff"/>
<circle cx="396.42" cy="377.67" r="3" fill="#fff" stroke="#0000ff" stroke-width="1.0"/>
<path d="M396.42 374.67 A3 3 0 0 1 396.42 380.67 Z" fill="#0000ff"/>
<path d="M53.5 384.85 L55.26 384.63 L57.03 384.4 L58.79 384.15 L60.55 383.89 L62.32 383.62 L64.08 383.34 L65.84 383.05 L67.61 382.74 L69.37 382.42 L71.13 382.1 L72.9 381.76 L74.66 381.41 L76.42 381.05 L78.19 380.68 L79.95 380.31 L81.71 379.92 L83.48 379.52 L85.24 379.12 L87 378.71 L88.77 378.28 L90.53 377.85 L92.29 377.42 L94.06 376.97 L95.82 376.52 L97.58 376.06 L99.35 375.59 L101.11 375.12 L102.87 374.64 L104.64 374.16 L106.4 373.67 L108.16 373.17 L109.93 372.67 L111.69 372.16 L113.45 371.65 L115.22 371.13 L116.98 370.61 L118.74 370.08 L120.51 369.55 L122.27 369.02 L124.03 368.48 L125.8 367.94 L127.56 367.4 L129.32 366.85 L131.09 366.31 L132.85 365.75 L134.61 365.2 L136.38 364.65 L138.14 364.09 L139.9 363.53 L141.67 362.97 L143.43 362.41 L145.19 361.85 L146.96 361.29 L148.72 360.73 L150.48 360.16 L152.25 359.6 L154.01 359.04 L155.77 358.48 L157.54 357.92 L159.3 357.36 L161.06 356.8 L162.83 356.24 L164.59 355.68 L166.35 355.13 L168.12 354.58 L169.88 354.03 L171.64 353.48 L173.41 352.94 L175.17 352.4 L176.93 351.86 L178.7 351.32 L180.46 350.79 L182.22 350.26 L183.99 349.74 L185.75 349.22 L187.51 348.7 L189.28 348.19 L191.04 347.69 L192.8 347.19 L194.57 346.69 L196.33 346.2 L198.09 345.71 L199.86 345.23 L201.62 344.76 L203.38 344.3 L205.15 343.83 L206.91 343.38 L208.67 342.93 L210.44 342.49 L212.2 342.06 L213.96 341.64 L215.73 341.22 L217.49 340.81 L219.25 340.41 L221.02 340.02 L222.78 339.63 L224.54 339.26 L226.31 338.89 L228.07 338.53 L229.83 338.18 L231.59 337.85 L233.36 337.52 L235.12 337.2 L236.88 336.89 L238.65 336.59 L240.41 336.3 L242.17 336.03 L243.94 335.76 L245.7 335.5 L247.46 335.26 L249.23 335.03 L250.99 334.81 L252.75 334.6 L254.52 334.4 L256.28 334.22 L258.04 334.05 L259.81 333.89 L261.57 333.75 L263.33 333.62 L265.1 333.5 L266.86 333.39 L268.62 333.3 L270.39 333.22 L272.15 333.16 L273.91 333.11 L275.68 333.08 L277.44 333.06 L279.2 333.06 L280.97 333.07 L282.73 333.1 L284.49 333.14 L286.26 333.2 L288.02 333.28 L289.78 333.37 L291.55 333.48 L293.31 333.6 L295.07 333.74 L296.84 333.9 L298.6 334.08 L300.36 334.27 L302.13 334.49 L303.89 334.72 L305.65 334.96 L307.42 335.23 L309.18 335.52 L310.94 335.82 L312.71 336.14 L314.47 336.49 L316.23 336.85 L318 337.23 L319.76 337.63 L321.52 338.06 L323.29 338.5 L325.05 338.96 L326.81 339.45 L328.58 339.95 L330.34 340.48 L332.1 341.03 L333.87 341.6 L335.63 342.19 L337.39 342.8 L339.16 343.44 L340.92 344.1 L342.68 344.78 L344.45 345.49 L346.21 346.21 L347.97 346.97 L349.74 347.74 L351.5 348.54 L353.26 349.37 L355.03 350.21 L356.79 351.09 L358.55 351.98 L360.32 352.91 L362.08 353.86 L363.84 354.83 L365.61 355.83 L367.37 356.86 L369.13 357.91 L370.9 358.99 L372.66 360.09 L374.42 361.22 L376.19 362.38 L377.95 363.57 L379.71 364.79 L381.48 366.03 L383.24 367.3 L385 368.6 L386.77 369.93 L388.53 371.29 L390.29 372.67 L392.06 374.09 L393.82 375.54 L395.58 377.01 L397.35 378.52 L399.11 380.05 L400.87 381.62 L402.64 383.22 L404.4 384.85" fill="none" stroke="#0000ff" stroke-width="1.7" stroke-linejoin="round" />
<circle cx="53.5" cy="384.85" r="2.65" fill="#fff" stroke="#0000ff" stroke-width="1.3"/>
<circle cx="64.9" cy="383.2" r="2.65" fill="#fff" stroke="#0000ff" stroke-width="1.3"/>
<circle cx="76.87" cy="380.96" r="2.65" fill="#fff" stroke="#0000ff" stroke-width="1.3"/>
<circle cx="88.84" cy="378.27" r="2.65" fill="#fff" stroke="#0000ff" stroke-width="1.3"/>
<circle cx="100.81" cy="375.2" r="2.65" fill="#fff" stroke="#0000ff" stroke-width="1.3"/>
<circle cx="112.78" cy="371.84" r="2.65" fill="#fff" stroke="#0000ff" stroke-width="1.3"/>
<circle cx="124.75" cy="368.26" r="2.65" fill="#fff" stroke="#0000ff" stroke-width="1.3"/>
<circle cx="136.72" cy="364.54" r="2.65" fill="#fff" stroke="#0000ff" stroke-width="1.3"/>
<circle cx="148.69" cy="360.73" r="2.65" fill="#fff" stroke="#0000ff" stroke-width="1.3"/>
<circle cx="160.66" cy="356.92" r="2.65" fill="#fff" stroke="#0000ff" stroke-width="1.3"/>
<circle cx="172.63" cy="353.18" r="2.65" fill="#fff" stroke="#0000ff" stroke-width="1.3"/>
<circle cx="184.6" cy="349.56" r="2.65" fill="#fff" stroke="#0000ff" stroke-width="1.3"/>
<circle cx="196.57" cy="346.13" r="2.65" fill="#fff" stroke="#0000ff" stroke-width="1.3"/>
<circle cx="208.54" cy="342.97" r="2.65" fill="#fff" stroke="#0000ff" stroke-width="1.3"/>
<circle cx="220.51" cy="340.13" r="2.65" fill="#fff" stroke="#0000ff" stroke-width="1.3"/>
<circle cx="232.48" cy="337.68" r="2.65" fill="#fff" stroke="#0000ff" stroke-width="1.3"/>
<circle cx="244.45" cy="335.68" r="2.65" fill="#fff" stroke="#0000ff" stroke-width="1.3"/>
<circle cx="256.42" cy="334.21" r="2.65" fill="#fff" stroke="#0000ff" stroke-width="1.3"/>
<circle cx="268.39" cy="333.31" r="2.65" fill="#fff" stroke="#0000ff" stroke-width="1.3"/>
<circle cx="280.36" cy="333.07" r="2.65" fill="#fff" stroke="#0000ff" stroke-width="1.3"/>
<circle cx="292.33" cy="333.53" r="2.65" fill="#fff" stroke="#0000ff" stroke-width="1.3"/>
<circle cx="304.3" cy="334.77" r="2.65" fill="#fff" stroke="#0000ff" stroke-width="1.3"/>
<circle cx="316.27" cy="336.86" r="2.65" fill="#fff" stroke="#0000ff" stroke-width="1.3"/>
<circle cx="328.24" cy="339.85" r="2.65" fill="#fff" stroke="#0000ff" stroke-width="1.3"/>
<circle cx="340.21" cy="343.83" r="2.65" fill="#fff" stroke="#0000ff" stroke-width="1.3"/>
<circle cx="352.18" cy="348.86" r="2.65" fill="#fff" stroke="#0000ff" stroke-width="1.3"/>
<circle cx="364.15" cy="355" r="2.65" fill="#fff" stroke="#0000ff" stroke-width="1.3"/>
<circle cx="376.12" cy="362.34" r="2.65" fill="#fff" stroke="#0000ff" stroke-width="1.3"/>
<circle cx="388.09" cy="370.95" r="2.65" fill="#fff" stroke="#0000ff" stroke-width="1.3"/>
<circle cx="400.06" cy="380.9" r="2.65" fill="#fff" stroke="#0000ff" stroke-width="1.3"/>
</g>
<rect x="53" y="313.5" width="360.4" height="151.4" fill="none" stroke="#3a3a3a" stroke-width="1.1"/>
<line x1="53.5" y1="464.9" x2="53.5" y2="460.7" stroke="#3a3a3a" stroke-width="1.1" />
<text transform="translate(53 481.6) scale(1 1.07)" font-size="15.3" text-anchor="middle">0.0</text>
<line x1="88.59" y1="464.9" x2="88.59" y2="462.5" stroke="#3a3a3a" stroke-width="1.1" />
<line x1="123.68" y1="464.9" x2="123.68" y2="460.7" stroke="#3a3a3a" stroke-width="1.1" />
<text transform="translate(123.18 481.6) scale(1 1.07)" font-size="15.3" text-anchor="middle">0.2</text>
<line x1="158.77" y1="464.9" x2="158.77" y2="462.5" stroke="#3a3a3a" stroke-width="1.1" />
<line x1="193.86" y1="464.9" x2="193.86" y2="460.7" stroke="#3a3a3a" stroke-width="1.1" />
<text transform="translate(193.36 481.6) scale(1 1.07)" font-size="15.3" text-anchor="middle">0.4</text>
<line x1="228.95" y1="464.9" x2="228.95" y2="462.5" stroke="#3a3a3a" stroke-width="1.1" />
<line x1="264.04" y1="464.9" x2="264.04" y2="460.7" stroke="#3a3a3a" stroke-width="1.1" />
<text transform="translate(263.54 481.6) scale(1 1.07)" font-size="15.3" text-anchor="middle">0.6</text>
<line x1="299.13" y1="464.9" x2="299.13" y2="462.5" stroke="#3a3a3a" stroke-width="1.1" />
<line x1="334.22" y1="464.9" x2="334.22" y2="460.7" stroke="#3a3a3a" stroke-width="1.1" />
<text transform="translate(333.72 481.6) scale(1 1.07)" font-size="15.3" text-anchor="middle">0.8</text>
<line x1="369.31" y1="464.9" x2="369.31" y2="462.5" stroke="#3a3a3a" stroke-width="1.1" />
<line x1="404.4" y1="464.9" x2="404.4" y2="460.7" stroke="#3a3a3a" stroke-width="1.1" />
<text transform="translate(403.9 481.6) scale(1 1.07)" font-size="15.3" text-anchor="middle">1.0</text>
<line x1="53" y1="456.17" x2="57.2" y2="456.17" stroke="#3a3a3a" stroke-width="1.1" />
<text transform="translate(48 460.97) scale(1 1.04)" font-size="15.3" text-anchor="end">-4</text>
<line x1="53" y1="438.34" x2="55.4" y2="438.34" stroke="#3a3a3a" stroke-width="1.1" />
<line x1="53" y1="420.51" x2="57.2" y2="420.51" stroke="#3a3a3a" stroke-width="1.1" />
<text transform="translate(48 425.31) scale(1 1.04)" font-size="15.3" text-anchor="end">-2</text>
<line x1="53" y1="402.68" x2="55.4" y2="402.68" stroke="#3a3a3a" stroke-width="1.1" />
<line x1="53" y1="384.85" x2="57.2" y2="384.85" stroke="#3a3a3a" stroke-width="1.1" />
<text transform="translate(48 389.65) scale(1 1.04)" font-size="15.3" text-anchor="end">0</text>
<line x1="53" y1="367.02" x2="55.4" y2="367.02" stroke="#3a3a3a" stroke-width="1.1" />
<line x1="53" y1="349.19" x2="57.2" y2="349.19" stroke="#3a3a3a" stroke-width="1.1" />
<text transform="translate(48 353.99) scale(1 1.04)" font-size="15.3" text-anchor="end">2</text>
<line x1="53" y1="331.36" x2="55.4" y2="331.36" stroke="#3a3a3a" stroke-width="1.1" />
<line x1="53" y1="313.53" x2="57.2" y2="313.53" stroke="#3a3a3a" stroke-width="1.1" />
<text transform="translate(48 318.33) scale(1 1.04)" font-size="15.3" text-anchor="end">4</text>
<text transform="translate(2.4 320.1) scale(1 1.08)" font-size="21">B</text>
<g transform="translate(24.0 403.0) rotate(-90)"><text x="0" y="0" font-size="15.2">D (%)</text></g>
<text transform="translate(218.7 503.9) scale(1 1.04)" font-size="14.9">T/T<tspan font-size="10" dy="6.4" dx="0.6">C</tspan></text>
<line x1="59" y1="325.75" x2="91.7" y2="325.75" stroke="#ff0000" stroke-width="1.7" />
<rect x="72.5" y="322.95" width="5.6" height="5.6" fill="#fff" stroke="#ff0000" stroke-width="1.25"/>
<text x="95.4" y="330.8" font-size="14" text-anchor="start" >H<tspan font-size="9" dy="5.8" dx="-0.5">3</tspan><tspan dy="-5.8" dx="-0.1">S</tspan></text>
<line x1="59" y1="350.75" x2="91.7" y2="350.75" stroke="#0000ff" stroke-width="1.7" />
<circle cx="75.3" cy="350.75" r="3.15" fill="#fff" stroke="#0000ff" stroke-width="1.3"/>
<text x="95.3" y="355.5" font-size="14" text-anchor="start" >H<tspan font-size="9" dy="5.8" dx="-0.5">3</tspan><tspan dy="-5.8" dx="-0.1">S</tspan><tspan font-size="8.4" dy="-8.3" dx="0.2">(1)</tspan></text>
<line x1="141.6" y1="325.5" x2="173.6" y2="325.5" stroke="#0000ff" stroke-width="1.7" />
<circle cx="157.7" cy="325.5" r="3.3" fill="#fff" stroke="#0000ff" stroke-width="1.0"/>
<path d="M157.7 322.2 A3.3 3.3 0 0 1 157.7 328.8 Z" fill="#0000ff"/>
<text x="177.5" y="330" font-size="14" text-anchor="start" >H<tspan font-size="9" dy="5.8" dx="-0.5">3</tspan><tspan dy="-5.8" dx="-0.1">S</tspan><tspan font-size="8.4" dy="-7.9" dx="0.2">(2)</tspan></text>
<line x1="58.9" y1="445" x2="90" y2="445" stroke="#00ff00" stroke-width="2.1" stroke-dasharray="7.1 6.3"/>
<text x="93.7" y="450" font-size="14" text-anchor="start" letter-spacing="-0.4">BCS</text>
</svg>
</body></html>
